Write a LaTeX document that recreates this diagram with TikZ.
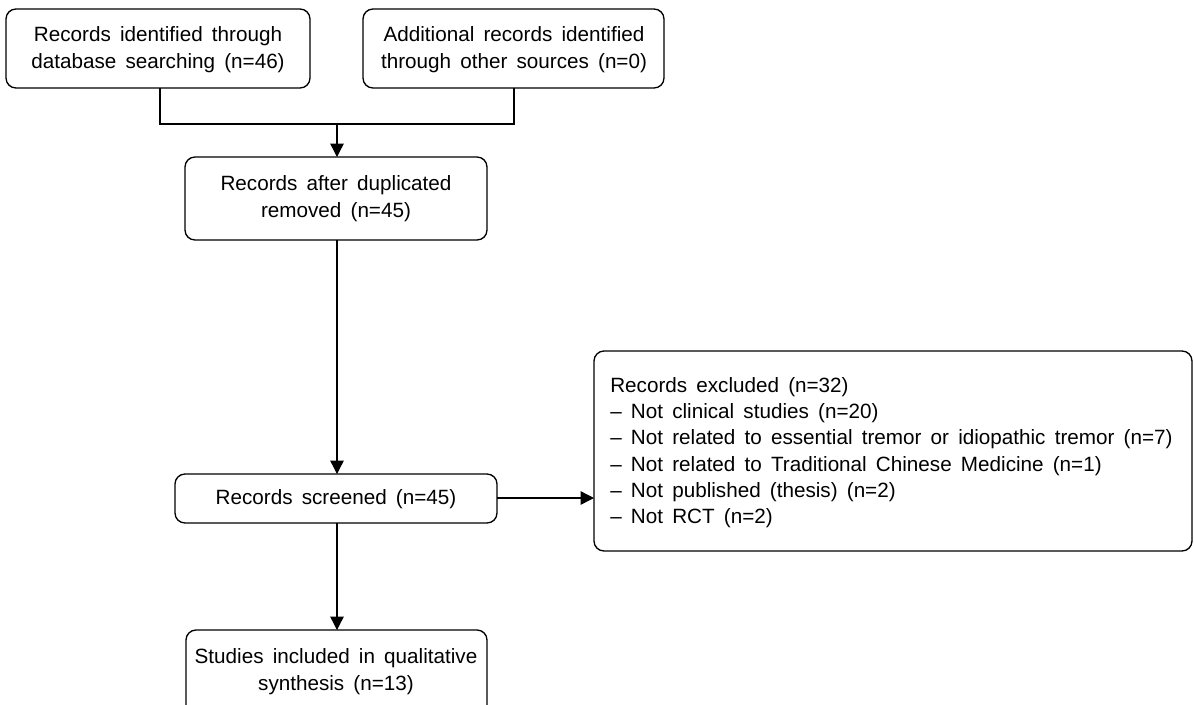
\documentclass[tikz,border=0pt]{standalone}
\usepackage{fontspec}
\setmainfont[WordSpace=1.6]{Liberation Sans}
\usetikzlibrary{arrows.meta}
\begin{document}
\begin{tikzpicture}[x=0.75pt,y=-0.75pt,
  box/.style={draw=black,line width=1pt,rounded corners=7.5pt,fill=white},
  lbl/.style={font=\fontsize{15.5pt}{20.3pt}\selectfont,align=center,inner sep=0pt},
  conn/.style={line width=1pt},
  arr/.style={line width=1pt,-{Triangle[length=10pt,width=10pt]}}]
\useasboundingbox (0,0) rectangle (1194,704);
\fill[white] (0,0) rectangle (1194,704);
% boxes
\draw[box] (6,9) rectangle (310,88);
\node[lbl] (b1) at (158,50) {Records identified through\\database searching (n=46)};
\coordinate (b1s) at (160,88);
\draw[box] (363,9) rectangle (664,88);
\node[lbl] (b2) at (514,50) {Additional records identified\\through other sources (n=0)};
\coordinate (b2s) at (514,88);
\draw[box] (185,157) rectangle (487,240);
\node[lbl] (b3) at (336,199) {Records after duplicated\\removed (n=45)};
\coordinate (b3n) at (337,157);
\coordinate (b3s) at (337,240);
\draw[box] (175,474) rectangle (497,523);
\node[lbl] (b4) at (336,499) {Records screened (n=45)};
\coordinate (b4n) at (337,474);
\coordinate (b4s) at (337,523);
\coordinate (b4e) at (497,498);
\draw[box] (186,630) rectangle (487,716);
\node[lbl] (b5) at (336,672) {Studies included in qualitative\\synthesis (n=13)};
\coordinate (b5n) at (337,630);
\draw[box] (594,351) rectangle (1192,551);
\node[lbl,align=left,anchor=north west,font=\fontsize{15.5pt}{19.7pt}\selectfont] (b6) at (610,377)
 {Records excluded (n=32)\\
  \textendash{} Not clinical studies (n=20)\\
  \textendash{} Not related to essential tremor or idiopathic tremor (n=7)\\
  \textendash{} Not related to Traditional Chinese Medicine (n=1)\\
  \textendash{} Not published (thesis) (n=2)\\
  \textendash{} Not RCT (n=2)};
\coordinate (b6w) at (594,498);
% connectors
\coordinate (j) at (337,124);
\draw[conn] (b1s) |- (j) -| (b2s);
\draw[arr] (j) -- (b3n);
\draw[arr] (b3s) -- (b4n);
\draw[arr] (b4s) -- (b5n);
\draw[arr] (b4e) -- (b6w);
\end{tikzpicture}
\end{document}
